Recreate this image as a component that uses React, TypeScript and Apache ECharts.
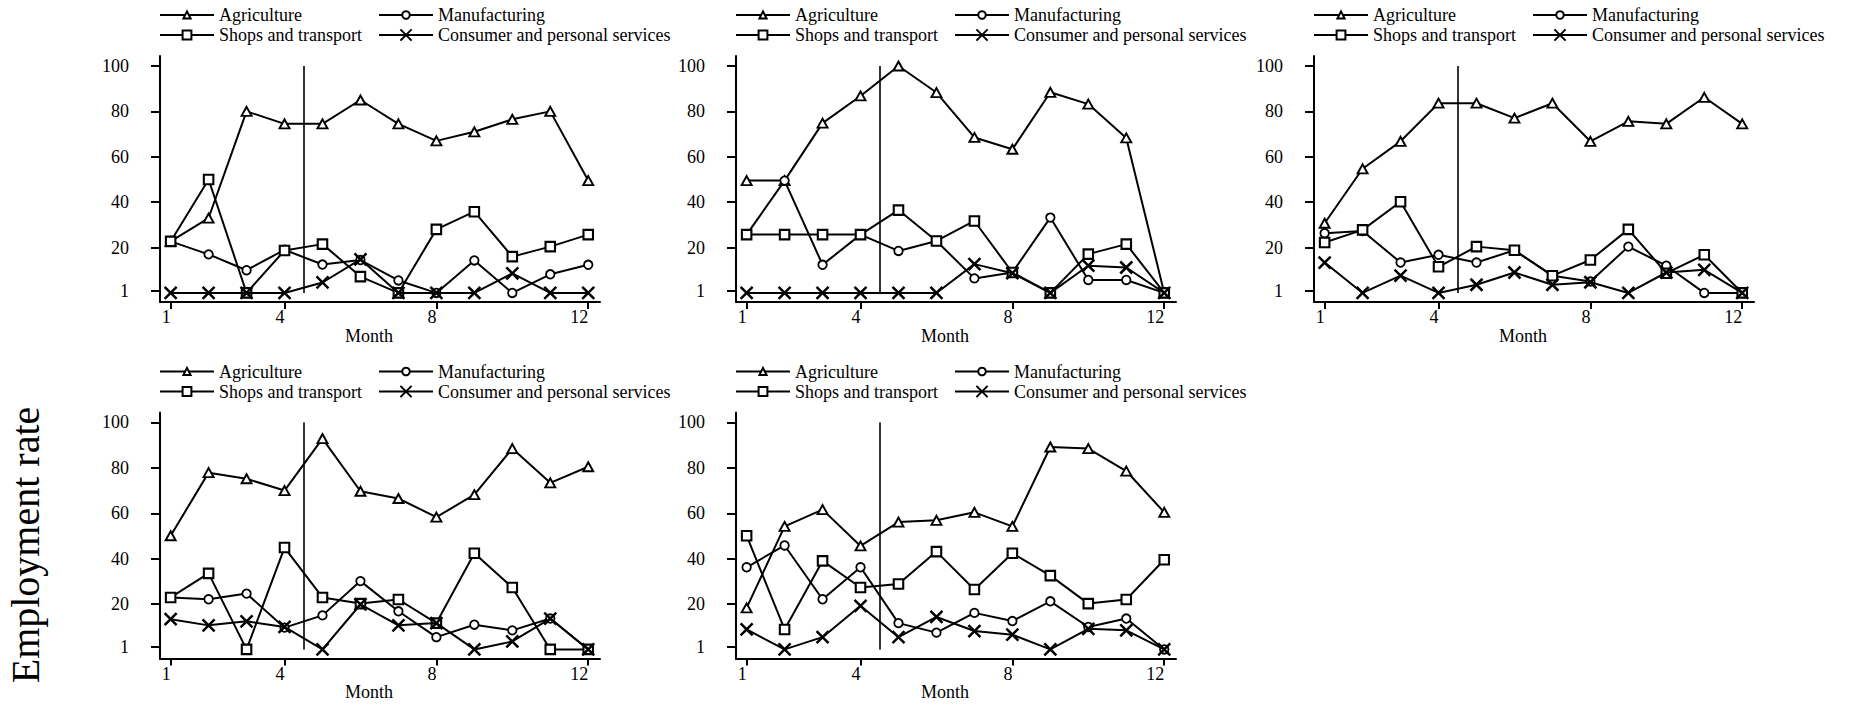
import React, { useEffect, useRef } from 'react';
import * as echarts from 'echarts';

const MONTHS = [1, 2, 3, 4, 5, 6, 7, 8, 9, 10, 11, 12];
const SECTORS = ['Agriculture', 'Manufacturing', 'Shops and transport', 'Consumer and personal services'];
const X_TICKS = [1, 4, 8, 12];
const Y_TICKS = [1, 20, 40, 60, 80, 100];
const POLICY_MONTH = 4.5;
const Y_LABEL = 'Employment rate';
const X_LABEL = 'Month';

// Panel 1
const p1Agriculture = [22.7, 33, 80, 74.5, 74.5, 85, 74.5, 67, 71, 76.5, 80, 49.5];
const p1Manufacturing = [22.7, 17, 10, 19, 12.5, 14.5, 5.5, 0, 14.3, 0, 8.2, 12.4];
const p1Shops = [22.7, 50, 0, 18.7, 21.5, 7.2, 0, 28, 35.8, 16, 20.4, 25.7];
const p1Consumer = [0, 0, 0, 0, 4.6, 14.8, 0, 0, 0, 8.6, 0, 0];

// Panel 2
const p2Agriculture = [49.5, 49.5, 74.8, 86.8, 100, 88.3, 68.5, 63.3, 88.4, 83.2, 68.3, 0];
const p2Manufacturing = [25.7, 49.5, 12.4, 25.7, 18.5, 22.9, 6.4, 9, 33.2, 5.7, 5.7, 0];
const p2Shops = [25.7, 25.7, 25.7, 25.7, 36.5, 22.9, 31.7, 9, 0, 17.1, 21.5, 0];
const p2Consumer = [0, 0, 0, 0, 0, 0, 12.7, 8.7, 0, 12, 11.2, 0];

// Panel 3
const p3Agriculture = [30.7, 54.7, 66.8, 83.6, 83.6, 77, 83.6, 66.8, 75.6, 74.5, 86.2, 74.5];
const p3Manufacturing = [26.3, 27.3, 13.4, 16.8, 13.4, 18.8, 7.6, 5, 20.4, 12, 0, 0];
const p3Shops = [22.2, 27.8, 40.2, 11.5, 20.4, 18.8, 7.6, 14.5, 28, 8.7, 16.8, 0];
const p3Consumer = [13.4, 0, 7.6, 0, 3.6, 9, 3.6, 4.7, 0, 9, 10.2, 0];

// Panel 4
const p4Agriculture = [50.1, 77.9, 75.2, 70, 92.9, 69.7, 66.5, 58.3, 68.2, 88.5, 73.4, 80.5];
const p4Manufacturing = [22.9, 22.1, 24.6, 9.6, 15, 30.1, 16.8, 5.4, 10.9, 8.4, 13.6, 0];
const p4Shops = [22.9, 33.5, 0, 44.9, 22.9, 20.2, 22, 11.6, 42.4, 27.3, 0, 0];
const p4Consumer = [13.3, 10.6, 12.4, 9.9, 0, 19.8, 10.6, 11.6, 0, 3.5, 13.6, 0];

// Panel 5
const p5Agriculture = [18.3, 54.2, 61.6, 45.6, 56.1, 56.9, 60.4, 54.2, 89.2, 88.5, 78.6, 60.4];
const p5Manufacturing = [36.2, 45.8, 22.1, 36.2, 11.6, 7.4, 16.1, 12.5, 21.2, 9.9, 13.6, 0];
const p5Shops = [50.1, 8.8, 39, 27.3, 28.8, 43.1, 26.4, 42.4, 32.5, 20.2, 22, 39.5];
const p5Consumer = [8.8, 0, 5.4, 19.2, 5.4, 14.3, 8.1, 6.5, 0, 9.1, 8.4, 0];

const PANEL_DATA = [
  [p1Agriculture, p1Manufacturing, p1Shops, p1Consumer],
  [p2Agriculture, p2Manufacturing, p2Shops, p2Consumer],
  [p3Agriculture, p3Manufacturing, p3Shops, p3Consumer],
  [p4Agriculture, p4Manufacturing, p4Shops, p4Consumer],
  [p5Agriculture, p5Manufacturing, p5Shops, p5Consumer],
];

const PANEL_POS = [
  { left: 160, top: 56 },
  { left: 736, top: 56 },
  { left: 1314, top: 56 },
  { left: 160, top: 412.5 },
  { left: 736, top: 412.5 },
];

const FONT = 'Liberation Serif';
const GRID_W = 440;
const GRID_H = 246;

const X_PATH = 'path://M0,0L10,10M10,0L0,10';
const SYMBOLS: any[] = ['triangle', 'circle', 'rect', X_PATH];
const SYMBOL_SIZES: any[] = [[10, 9], 8.5, 9.5, 12];
const BORDER_W = [1.9, 1.8, 2.1, 2.5];
// legend icon height per sector (symbol drawn at 80% of it)
const LEGEND_ICON_H = [9, 9.5, 11, 14];
// legend slot: [column, row]
const LEGEND_SLOT = [[0, 0], [1, 0], [0, 1], [1, 1]];

function buildOption() {
  const grids: any[] = [];
  const xAxes: any[] = [];
  const yAxes: any[] = [];
  const series: any[] = [];
  const legends: any[] = [];

  PANEL_POS.forEach((pos, p) => {
    grids.push({ left: pos.left, top: pos.top, width: GRID_W, height: GRID_H, containLabel: false, outerBoundsMode: 'none' });
    xAxes.push({
      type: 'value',
      gridIndex: p,
      min: 0.72,
      max: 12.31,
      splitLine: { show: false },
      axisLine: { show: true, onZero: false, lineStyle: { color: '#000', width: 2 } },
      axisTick: { show: true, length: 7, lineStyle: { color: '#000', width: 2 }, customValues: X_TICKS },
      axisLabel: {
        show: true, color: '#000', fontSize: 18, fontFamily: FONT, margin: 6, align: 'right',
        customValues: X_TICKS,
      },
      name: X_LABEL,
      nameLocation: 'middle',
      nameGap: 24,
      nameTextStyle: { color: '#000', fontSize: 18, fontFamily: FONT, padding: [0, 22, 0, 0] },
    });
    yAxes.push({
      type: 'value',
      gridIndex: p,
      min: -4,
      max: 104.4,
      splitLine: { show: false },
      axisLine: { show: true, onZero: false, lineStyle: { color: '#000', width: 2 } },
      axisTick: { show: true, length: 9, lineStyle: { color: '#000', width: 2 }, customValues: Y_TICKS },
      axisLabel: {
        show: true, color: '#000', fontSize: 18, fontFamily: FONT, margin: 31,
        customValues: Y_TICKS,
      },
    });

    PANEL_DATA[p].forEach((arr, s) => {
      const ser: any = {
        type: 'line',
        name: SECTORS[s],
        xAxisIndex: p,
        yAxisIndex: p,
        data: MONTHS.map((m, i) => [m, arr[i]]),
        symbol: SYMBOLS[s],
        symbolSize: SYMBOL_SIZES[s],
        showAllSymbol: true,
        lineStyle: { color: '#000', width: 2 },
        itemStyle: { color: '#fff', borderColor: '#000', borderWidth: BORDER_W[s] },
        emphasis: { disabled: true },
        silent: true,
        z: 3 + s,
      };
      if (s === 0) {
        ser.markLine = {
          silent: true,
          symbol: 'none',
          label: { show: false },
          lineStyle: { color: '#000', width: 1.6, type: 'solid' },
          data: [[{ coord: [POLICY_MONTH, 0] }, { coord: [POLICY_MONTH, 100] }]],
        };
      }
      series.push(ser);
    });

    SECTORS.forEach((name, s) => {
      const [col, row] = LEGEND_SLOT[s];
      legends.push({
        orient: 'horizontal',
        left: pos.left - 1 + col * 219,
        top: pos.top - 50 + row * 20,
        itemWidth: 54,
        itemHeight: LEGEND_ICON_H[s],
        selectedMode: false,
        padding: 0,
        textStyle: { color: '#000', fontSize: 18, fontFamily: FONT, lineHeight: 18 },
        data: [name],
      });
    });
  });

  return {
    animation: false,
    backgroundColor: '#fff',
    grid: grids,
    xAxis: xAxes,
    yAxis: yAxes,
    legend: legends,
    series,
    graphic: [
      {
        type: 'text',
        x: 25,
        y: 545,
        rotation: Math.PI / 2,
        style: {
          text: Y_LABEL,
          fontSize: 40,
          fontFamily: FONT,
          fill: '#000',
          align: 'center',
          verticalAlign: 'middle',
        },
      },
    ],
  };
}

export default function App() {
  const ref = useRef<HTMLDivElement>(null);
  useEffect(() => {
    if (!ref.current) return;
    const chart = echarts.init(ref.current, null, { renderer: 'svg' });
    chart.setOption(buildOption() as any);
    return () => chart.dispose();
  }, []);
  return (
    <div
      ref={ref}
      style={{ position: 'absolute', left: 0, top: 0, width: 1855, height: 709, background: '#fff' }}
    />
  );
}
